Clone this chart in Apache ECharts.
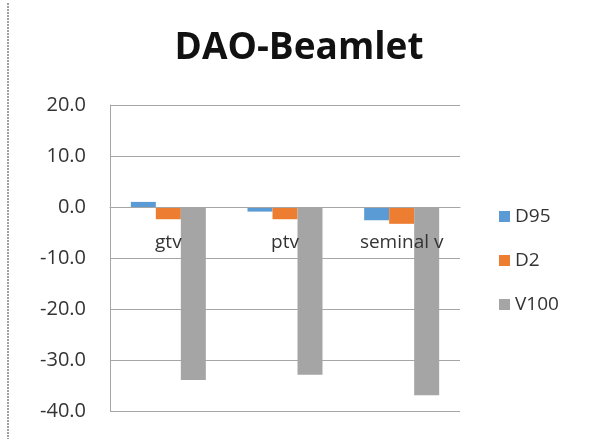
<!DOCTYPE html>
<html>
<head>
<meta charset="utf-8">
<script src="https://cdn.jsdelivr.net/npm/echarts@6/dist/echarts.min.js"></script>
<style>
  html, body { margin: 0; padding: 0; background: #fff; }
  #chart { width: 589px; height: 439px; }
</style>
</head>
<body>
<div id="chart"></div>
<script>
// Structures and dose metrics (differences, %)
const categories = ['gtv', 'ptv', 'seminal v'];
const d95 = [1.0, -0.9, -2.6];
const d2 = [-2.4, -2.4, -3.3];
const v100 = [-33.9, -32.9, -36.9];
const yTicks = { min: -40, max: 20, interval: 10 };

const FONT = '"Open Sans", "Liberation Sans", sans-serif';
const GRID = { left: 110, top: 105, width: 350, height: 306 };
// Category axis sits on the zero line, like a spreadsheet chart
const zeroOffset = -GRID.height * (0 - yTicks.min) / (yTicks.max - yTicks.min);

const chart = echarts.init(document.getElementById('chart'));
chart.setOption({
  animation: false,
  backgroundColor: '#ffffff',
  title: {
    text: 'DAO-Beamlet',
    left: 294,
    textAlign: 'center',
    top: 25,
    textStyle: { fontFamily: FONT, fontSize: 37, fontWeight: 'bold', color: '#111' }
  },
  legend: {
    orient: 'vertical',
    left: 494,
    top: 202,
    itemWidth: 11,
    itemHeight: 11,
    itemGap: 25,
    icon: 'rect',
    textStyle: { fontFamily: FONT, fontSize: 19, color: '#333' },
    data: ['D95', 'D2', 'V100']
  },
  grid: Object.assign({ outerBoundsMode: 'none', containLabel: false }, GRID),
  xAxis: {
    type: 'category',
    data: categories,
    position: 'bottom',
    offset: zeroOffset,
    axisLine: { onZero: false, lineStyle: { color: '#a6a6a6', width: 1 } },
    axisTick: { show: false },
    axisLabel: { margin: 26, fontFamily: FONT, fontSize: 19, color: '#333' },
    z: 5
  },
  yAxis: {
    type: 'value',
    min: yTicks.min,
    max: yTicks.max,
    interval: yTicks.interval,
    axisLine: { show: true, lineStyle: { color: '#a6a6a6' } },
    axisTick: { show: false },
    axisLabel: {
      margin: 24,
      fontFamily: FONT,
      fontSize: 20,
      color: '#333',
      formatter: v => v.toFixed(1)
    },
    splitLine: { lineStyle: { color: '#a6a6a6', width: 1 } }
  },
  series: [
    { name: 'D95', type: 'bar', data: d95, barWidth: 25, barGap: '0%', itemStyle: { color: '#5b9bd5' }, z: 2 },
    { name: 'D2', type: 'bar', data: d2, barWidth: 25, barGap: '0%', itemStyle: { color: '#ed7d31' }, z: 2 },
    { name: 'V100', type: 'bar', data: v100, barWidth: 25, barGap: '0%', itemStyle: { color: '#a5a5a5' }, z: 2 }
  ],
  graphic: [
    {
      type: 'line',
      shape: { x1: 8, y1: 3, x2: 8, y2: 439 },
      style: { stroke: '#a0a0a0', lineWidth: 2, lineDash: [2, 1] }
    }
  ]
});
</script>
</body>
</html>
